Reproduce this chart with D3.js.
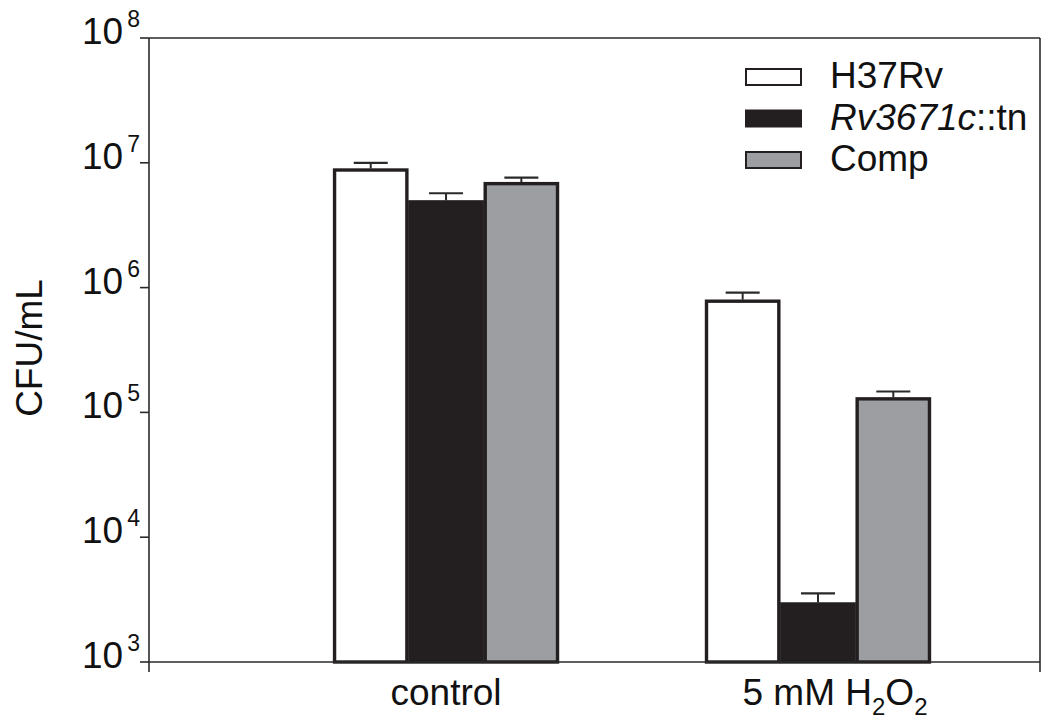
<!DOCTYPE html>
<html>
<head>
<meta charset="utf-8">
<script src="https://cdn.jsdelivr.net/npm/d3@7"></script>
<style>
  body { margin: 0; background: #fff; }
  text { font-family: "Liberation Sans", Arial, sans-serif; fill: #111; }
</style>
</head>
<body>
<div id="chart"></div>
<script>
// data
var groups = ["control", "5 mM H2O2"];
var strains = ["H37Rv", "Rv3671c::tn", "Comp"];
var fills = ["#ffffff", "#231f20", "#9d9ea2"];
var meanControl = [9.0e6, 5.0e6, 7.0e6];
var errControl = [1.0e7, 5.7e6, 7.6e6];
var meanH2O2 = [8.0e5, 3.0e3, 1.32e5];
var errH2O2 = [9.1e5, 3.55e3, 1.47e5];
var yTicks = [1e3, 1e4, 1e5, 1e6, 1e7, 1e8];

var means = [meanControl, meanH2O2];
var errs = [errControl, errH2O2];

var W = 1050, H = 720;
var plotL = 149, plotR = 1040, plotT = 38, plotB = 662;
var ink = "#2a2a2a";

var svg = d3.select("#chart").append("svg")
    .attr("width", W)
    .attr("height", H)

var y = d3.scaleLog().domain([1e3, 1e8]).range([plotB, plotT]);

var x = d3.scaleBand().domain(groups).range([plotL, plotR])
    .paddingInner(0.3925).paddingOuter(0.394).align(0.628);

var xs = d3.scaleBand().domain(strains).range([0, x.bandwidth()]);

// frame: top and right lines
svg.append("line").attr("x1", plotL).attr("x2", plotR).attr("y1", plotT).attr("y2", plotT)
    .attr("stroke", ink).attr("stroke-width", 1.6);
svg.append("line").attr("x1", plotR).attr("x2", plotR).attr("y1", plotT).attr("y2", plotB + 10)
    .attr("stroke", ink).attr("stroke-width", 1.6);

// bars
groups.forEach(function(g, gi) {
    var gEl = svg.append("g").attr("transform", "translate(" + x(g) + ",0)");
    strains.forEach(function(s, si) {
        var v = means[gi][si];
        var bx = xs(s), bw = xs.bandwidth();
        // error bar (upper only)
        var cx = bx + bw / 2;
        gEl.append("line").attr("x1", cx).attr("x2", cx)
            .attr("y1", y(v)).attr("y2", y(errs[gi][si]))
            .attr("stroke", ink).attr("stroke-width", 2);
        gEl.append("line").attr("x1", cx - 17).attr("x2", cx + 17)
            .attr("y1", y(errs[gi][si])).attr("y2", y(errs[gi][si]))
            .attr("stroke", ink).attr("stroke-width", 2.2);
        gEl.append("rect")
            .attr("x", bx + 1.5)
            .attr("y", y(v) + 1.5)
            .attr("width", bw - 3)
            .attr("height", plotB - y(v) - 1.5)
            .attr("fill", fills[si])
            .attr("stroke", "#231f20")
            .attr("stroke-width", 3.4);
    });
});

// x axis line
svg.append("line").attr("x1", plotL).attr("x2", plotR).attr("y1", plotB).attr("y2", plotB)
    .attr("stroke", ink).attr("stroke-width", 1.6);

// y axis
var yAxis = svg.append("g").attr("transform", "translate(" + plotL + ",0)");
yAxis.append("line").attr("x1", 0).attr("x2", 0).attr("y1", plotT).attr("y2", plotB + 10)
    .attr("stroke", ink).attr("stroke-width", 1.6);
var tk = yAxis.selectAll(".tick").data(yTicks).enter().append("g")
    .attr("class", "tick")
    .attr("transform", function(d) { return "translate(0," + y(d) + ")"; });
tk.append("line").attr("x1", -9).attr("x2", 0).attr("stroke", ink).attr("stroke-width", 1.6);
var tt = tk.append("text").attr("x", -9).attr("y", 6).attr("text-anchor", "end")
    .style("font-size", "37px");
tt.append("tspan").text("10");
tt.append("tspan").attr("dx", 4).attr("dy", -17).style("font-size", "23px").text(function(d) { return Math.round(Math.log10(d)); });

svg.append("text")
    .attr("transform", "translate(42,348) rotate(-90)")
    .attr("text-anchor", "middle")
    .style("font-size", "37px")
    .text("CFU/mL");

// x labels
svg.append("text").attr("x", x(groups[0]) + x.bandwidth() / 2).attr("y", 705)
    .attr("text-anchor", "middle").style("font-size", "37px").text("control");
var lab1 = svg.append("text").attr("x", x(groups[1]) + x.bandwidth() / 2 + 17).attr("y", 705)
    .attr("text-anchor", "middle").style("font-size", "37px");
lab1.append("tspan").text("5 mM H");
lab1.append("tspan").attr("dy", 10).style("font-size", "24px").text("2");
lab1.append("tspan").attr("dy", -10).text("O");
lab1.append("tspan").attr("dy", 10).style("font-size", "24px").text("2");

// legend
var leg = svg.append("g").attr("transform", "translate(745,68)");
strains.forEach(function(s, i) {
    var row = leg.append("g").attr("transform", "translate(0," + (i * 41.5) + ")");
    row.append("rect").attr("x", 1).attr("y", 1).attr("width", 55).attr("height", 16)
        .attr("fill", fills[i]).attr("stroke", "#231f20").attr("stroke-width", 2);
    var t = row.append("text").attr("x", 85).attr("y", 20).style("font-size", "37px");
    if (s == "Rv3671c::tn") {
        t.append("tspan").style("font-style", "italic").text("Rv3671c");
        t.append("tspan").text("::tn");
    } else {
        t.text(s);
    }
});
</script>
</body>
</html>
